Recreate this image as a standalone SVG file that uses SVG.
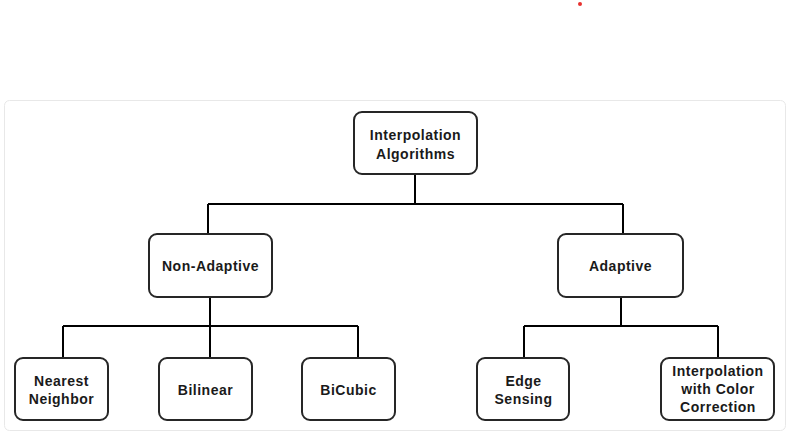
<svg xmlns="http://www.w3.org/2000/svg" width="792" height="437" viewBox="0 0 792 437">
<style>
.node rect{fill:#fff;stroke:#262626;stroke-width:2}
.node text{font-family:"Liberation Sans",Arial,sans-serif;font-weight:bold;font-size:14px;letter-spacing:0.5px;fill:#1a1a1a;text-anchor:middle}
.conn path{fill:none;stroke:#000;stroke-width:2}
</style>
<rect x="0" y="0" width="792" height="437" fill="#fff"/>
<circle cx="580" cy="4" r="2" fill="#e8312f"/>
<rect x="4.5" y="100.5" width="781" height="330" rx="5" fill="#fff" stroke="#e8e8e8"/>
<g class="conn" id="connectors">
<path d="M415 174V204M208 204H623M208 204V234M623 204V234"/>
<path d="M210 297V358M63 326H358M63 326V358M358 326V358"/>
<path d="M621 297V326M524 326H718M524 326V358M718 326V358"/>
</g>
<g class="node" id="root"><rect x="354" y="112" width="123" height="62" rx="8"/><text x="415.5" y="140">Interpolation</text><text x="415.5" y="159">Algorithms</text></g>
<g class="node" id="nonadaptive"><rect x="149" y="234" width="123" height="63" rx="8"/><text x="210.5" y="271">Non-Adaptive</text></g>
<g class="node" id="adaptive"><rect x="558" y="234" width="125" height="63" rx="8"/><text x="620.5" y="271">Adaptive</text></g>
<g class="node" id="nearest"><rect x="15" y="358" width="93" height="62" rx="8"/><text x="61.5" y="386">Nearest</text><text x="61.5" y="404">Neighbor</text></g>
<g class="node" id="bilinear"><rect x="159" y="358" width="93" height="62" rx="8"/><text x="205.5" y="395">Bilinear</text></g>
<g class="node" id="bicubic"><rect x="302" y="358" width="93" height="62" rx="8"/><text x="348.5" y="395">BiCubic</text></g>
<g class="node" id="edge"><rect x="477" y="358" width="92" height="62" rx="8"/><text x="523.5" y="386">Edge</text><text x="523.5" y="404">Sensing</text></g>
<g class="node" id="colorcorr"><rect x="661" y="358" width="113" height="62" rx="8"/><text x="718" y="376">Interpolation</text><text x="718" y="394">with Color</text><text x="718" y="412">Correction</text></g>
</svg>
